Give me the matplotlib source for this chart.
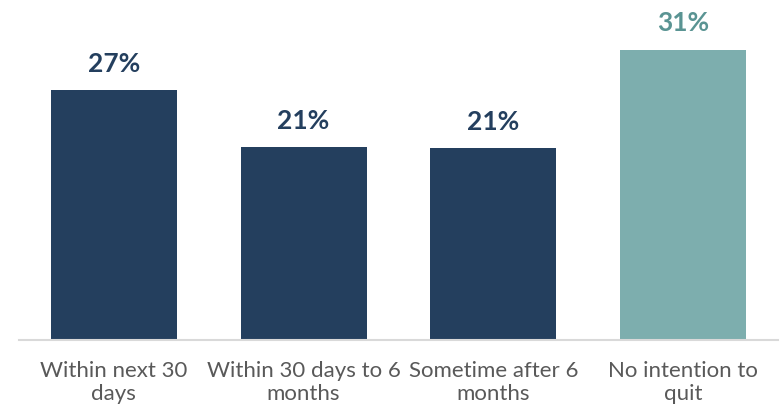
import matplotlib.pyplot as plt
import numpy as np

plt.rcParams['font.family'] = ['Lato', 'DejaVu Sans']

categories = ['Within next 30\ndays', 'Within 30 days to 6\nmonths',
              'Sometime after 6\nmonths', 'No intention to\nquit']
values = [26.7, 20.6, 20.5, 31.0]
bar_colors = ['#243F5E', '#243F5E', '#243F5E', '#7DAEAE']
label_colors = ['#243F5E', '#243F5E', '#243F5E', '#5A9493']

fig = plt.figure(figsize=(7.81, 4.11), dpi=100)
ax = fig.add_axes([19 / 781, 71 / 411, 759 / 781, 340 / 411])

x = np.arange(len(categories))
bars = ax.bar(x, values, width=0.664, color=bar_colors)

# percent labels, rounded half up
for b, v, c in zip(bars, values, label_colors):
    ax.text(b.get_x() + b.get_width() / 2, v + 1.5, f"{int(v + 0.5)}%",
            ha='center', va='bottom', fontsize=19, fontweight='bold', color=c)

ax.set_xlim(-0.5, 3.5)
ax.set_ylim(0, 340 / 9.37)
ax.set_xticks(x)
ax.set_xticklabels(categories, fontsize=16, color='#595959', linespacing=1.2)
ax.tick_params(axis='x', length=0, pad=15)
ax.set_yticks([])

for side in ['top', 'right', 'left']:
    ax.spines[side].set_visible(False)
ax.spines['bottom'].set_color('#D9D9D9')
ax.spines['bottom'].set_linewidth(1.5)

fig.savefig('out.png', dpi=100)
